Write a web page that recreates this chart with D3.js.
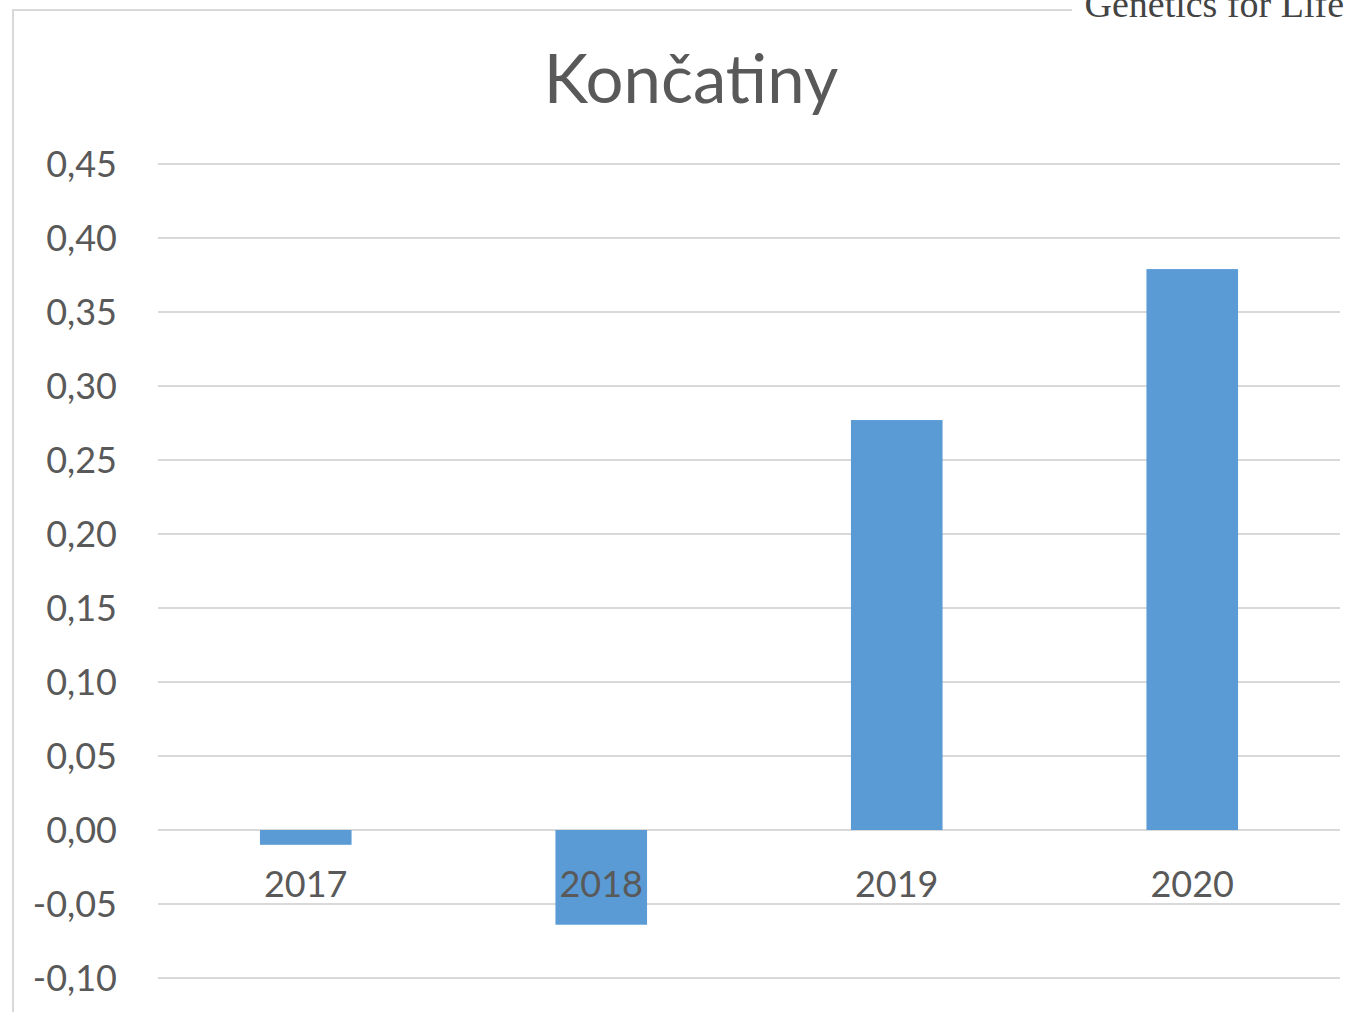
<!DOCTYPE html>
<html>
<head>
<meta charset="utf-8">
<script src="https://cdn.jsdelivr.net/npm/d3@7"></script>
<style>
  body { margin: 0; background: #fff; }
  svg { display: block; }
</style>
</head>
<body>
<svg id="chart" width="1357" height="1012"></svg>
<script>
const years = ["2017", "2018", "2019", "2020"];
const values = [-0.01, -0.064, 0.277, 0.379];
const yTicks = [-0.10, -0.05, 0, 0.05, 0.10, 0.15, 0.20, 0.25, 0.30, 0.35, 0.40, 0.45];

const textColor = "#595959";
const font = "Lato, 'Open Sans', sans-serif";

const svg = d3.select("#chart");

// chart frame (top + left edges visible in crop)
svg.append("path")
  .attr("d", `M13,1012 V10 H1072`)
  .attr("fill", "none")
  .attr("stroke", "#d9d9d9")
  .attr("stroke-width", 2);

// watermark
svg.append("text")
  .attr("x", 1344)
  .attr("y", 17)
  .attr("text-anchor", "end")
  .attr("font-family", "'Liberation Serif', 'DejaVu Serif', serif")
  .attr("font-size", 38)
  .attr("fill", "#444")
  .text("Genetics for Life");

const x = d3.scaleBand()
  .domain(years)
  .range([158, 1340])
  .paddingInner(0.69)
  .paddingOuter(0.345);

const y = d3.scaleLinear()
  .domain([-0.10, 0.45])
  .range([978, 164]);

// gridlines
svg.append("g")
  .selectAll("line")
  .data(yTicks)
  .join("line")
  .attr("x1", 158)
  .attr("x2", 1340)
  .attr("y1", d => y(d))
  .attr("y2", d => y(d))
  .attr("stroke", "#d9d9d9")
  .attr("stroke-width", 2);

// y tick labels
const fmt = d => d3.format(".2f")(d).replace(".", ",").replace("−", "-");
svg.append("g")
  .selectAll("text")
  .data(yTicks)
  .join("text")
  .attr("x", 117)
  .attr("y", d => y(d))
  .attr("dy", "0.35em")
  .attr("text-anchor", "end")
  .attr("font-family", font)
  .attr("font-size", 36)
  .attr("fill", textColor)
  .text(d => fmt(Math.abs(d) < 1e-9 ? 0 : d));

// bars
svg.append("g")
  .selectAll("rect")
  .data(years.map((yr, i) => ({ yr, v: values[i] })))
  .join("rect")
  .attr("x", d => x(d.yr))
  .attr("width", x.bandwidth())
  .attr("y", d => y(Math.max(0, d.v)))
  .attr("height", d => Math.abs(y(d.v) - y(0)))
  .attr("fill", "#5b9bd5");

// category labels
svg.append("g")
  .selectAll("text")
  .data(years)
  .join("text")
  .attr("x", d => x(d) + x.bandwidth() / 2)
  .attr("y", 884)
  .attr("dy", "0.35em")
  .attr("text-anchor", "middle")
  .attr("font-family", font)
  .attr("font-size", 36)
  .attr("fill", textColor)
  .text(d => d);

// title
svg.append("text")
  .attr("x", 691)
  .attr("y", 103)
  .attr("text-anchor", "middle")
  .attr("font-family", font)
  .attr("font-size", 67)
  .attr("fill", textColor)
  .text("Končatiny");
</script>
</body>
</html>
